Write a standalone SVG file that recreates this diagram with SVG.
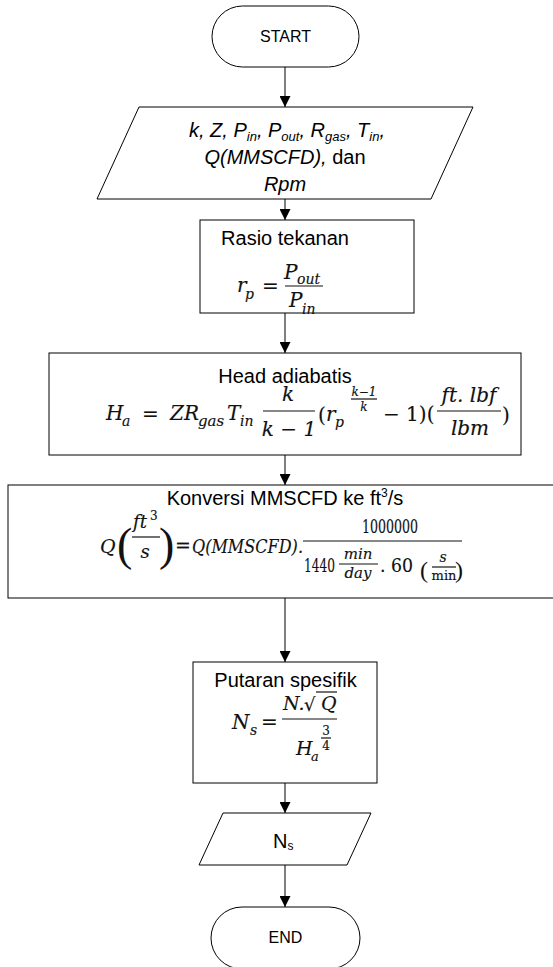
<svg xmlns="http://www.w3.org/2000/svg" width="553" height="967" viewBox="0 0 553 967">
<defs>
<style>
.shape{fill:#fff;stroke:#000;stroke-width:1}
.t{font-family:"Liberation Sans",Arial,sans-serif;font-size:20px;fill:#000}
.ts{font-family:"Liberation Sans",Arial,sans-serif;font-size:16px;fill:#000}
.m{font-family:"DejaVu Serif","Liberation Serif",serif;font-style:italic;fill:#111;stroke:#111;stroke-width:0.15}
.mu{font-family:"DejaVu Serif","Liberation Serif",serif;fill:#111;stroke:#111;stroke-width:0.15}
.bar{stroke:#111;stroke-width:1.2}
.conn line{stroke:#000;stroke-width:1}
</style>
<marker id="arr" markerUnits="userSpaceOnUse" markerWidth="11" markerHeight="11" refX="11" refY="5.5" orient="auto">
<path d="M0,0 L11,5.5 L0,11 z" fill="#000"/>
</marker>
</defs>
<rect width="553" height="967" fill="#fff"/>

<g class="conn">
<line x1="285" y1="67" x2="285" y2="107" marker-end="url(#arr)"/>
<line x1="285" y1="199" x2="285" y2="220" marker-end="url(#arr)"/>
<line x1="285" y1="313" x2="285" y2="353" marker-end="url(#arr)"/>
<line x1="285" y1="455" x2="285" y2="485" marker-end="url(#arr)"/>
<line x1="285" y1="598" x2="285" y2="662" marker-end="url(#arr)"/>
<line x1="285" y1="783" x2="285" y2="813" marker-end="url(#arr)"/>
<line x1="285" y1="865" x2="285" y2="907" marker-end="url(#arr)"/>
</g>

<g id="start">
<rect class="shape" x="212" y="6" width="147" height="61" rx="30.5"/>
<text class="ts" x="285.5" y="42" text-anchor="middle">START</text>
</g>

<g id="input">
<polygon class="shape" points="139,107 473,107 431,199 97,199"/>
<text class="t" x="287" y="137" text-anchor="middle" font-style="italic">k, Z, P<tspan dy="4" font-size="13">in</tspan><tspan dy="-4">, P</tspan><tspan dy="4" font-size="13">out</tspan><tspan dy="-4">, R</tspan><tspan dy="4" font-size="13">gas</tspan><tspan dy="-4">, T</tspan><tspan dy="4" font-size="13">in</tspan><tspan dy="-4">,</tspan></text>
<text class="t" x="285" y="164" text-anchor="middle"><tspan font-style="italic">Q(MMSCFD),</tspan> dan</text>
<text class="t" x="285" y="191" text-anchor="middle" font-style="italic">Rpm</text>
</g>

<g id="rasio">
<rect class="shape" x="200" y="220" width="214" height="93"/>
<text class="t" x="285" y="245" text-anchor="middle">Rasio tekanan</text>
<text class="m" x="237" y="292" style="font-size:20px">r</text>
<text class="m" x="245" y="299" style="font-size:14px">p</text>
<text class="mu" x="262" y="293" style="font-size:20px">=</text>
<text class="m" x="284" y="279" style="font-size:20px">P</text>
<text class="m" x="297" y="284" style="font-size:14px">out</text>
<line class="bar" x1="285" y1="286" x2="323" y2="286"/>
<text class="m" x="289" y="307" style="font-size:20px">P</text>
<text class="m" x="302" y="314" style="font-size:14px">in</text>
</g>

<g id="head">
<rect class="shape" x="49" y="353" width="472" height="102"/>
<text class="t" x="285" y="383" text-anchor="middle">Head adiabatis</text>
<text class="m" x="106" y="420" style="font-size:20px">H</text>
<text class="m" x="122" y="426" style="font-size:14px">a</text>
<text class="mu" x="142" y="421" style="font-size:20px">=</text>
<text class="m" x="170" y="420" style="font-size:20px">Z</text>
<text class="m" x="184" y="420" style="font-size:20px">R</text>
<text class="m" x="198" y="426" style="font-size:15px">gas</text>
<text class="m" x="227" y="420" style="font-size:20px">T</text>
<text class="m" x="240" y="426" style="font-size:14px">in</text>
<text class="m" x="288" y="401" text-anchor="middle" style="font-size:20px">k</text>
<line class="bar" x1="263" y1="411" x2="315" y2="411"/>
<text class="m" x="289" y="436" text-anchor="middle" style="font-size:20px">k − 1</text>
<text class="mu" x="318" y="422" style="font-size:20px">(</text>
<text class="m" x="326" y="421" style="font-size:20px">r</text>
<text class="m" x="335" y="427" style="font-size:14px">p</text>
<text class="m" x="364" y="396" text-anchor="middle" style="font-size:12px">k−1</text>
<line class="bar" x1="351" y1="399" x2="377" y2="399" stroke-width="1"/>
<text class="m" x="364" y="411" text-anchor="middle" style="font-size:12px">k</text>
<text class="mu" x="383" y="421" style="font-size:20px">− 1)(</text>
<text class="m" x="469" y="402" text-anchor="middle" style="font-size:20px">ft. lbf</text>
<line class="bar" x1="437" y1="411" x2="501" y2="411"/>
<text class="m" x="470" y="435" text-anchor="middle" style="font-size:20px">lbm</text>
<text class="mu" x="502" y="422" style="font-size:20px">)</text>
</g>

<g id="konversi">
<rect class="shape" x="8" y="485" width="550" height="113"/>
<text class="t" x="285" y="505" text-anchor="middle">Konversi MMSCFD ke ft<tspan dy="-8" font-size="12">3</tspan><tspan dy="8">/s</tspan></text>
<text class="m" x="100" y="553" style="font-size:19px">Q</text>
<text class="mu" x="117" y="560" style="font-size:46px;font-family:'Liberation Serif',serif;stroke-width:0">(</text>
<text class="m" x="133" y="528" style="font-size:18px">ft</text>
<text class="mu" x="150" y="520" style="font-size:12px">3</text>
<line class="bar" x1="132" y1="537" x2="160" y2="537"/>
<text class="m" x="145" y="558" text-anchor="middle" style="font-size:18px">s</text>
<text class="mu" x="159" y="560" style="font-size:46px;font-family:'Liberation Serif',serif;stroke-width:0">)</text>
<text class="mu" x="175" y="552" style="font-size:19px">=</text>
<text class="m" x="192" y="553" textLength="111" lengthAdjust="spacingAndGlyphs" style="font-size:19px">Q(MMSCFD).</text>
<line class="bar" x1="303" y1="541" x2="462" y2="541"/>
<text class="mu" x="362" y="533" textLength="56" lengthAdjust="spacingAndGlyphs" style="font-size:19px">1000000</text>
<text class="mu" x="304" y="572" textLength="31" lengthAdjust="spacingAndGlyphs" style="font-size:19px">1440</text>
<text class="m" x="358" y="559" text-anchor="middle" style="font-size:15px">min</text>
<line class="bar" x1="339" y1="564" x2="378" y2="564"/>
<text class="m" x="358" y="578" text-anchor="middle" style="font-size:15px">day</text>
<text class="mu" x="380" y="572" textLength="33" lengthAdjust="spacingAndGlyphs" style="font-size:19px">. 60</text>
<text class="mu" x="420" y="578" style="font-size:24px;font-family:'Liberation Serif',serif;stroke-width:0">(</text>
<text class="m" x="443" y="562" text-anchor="middle" style="font-size:14px">s</text>
<line class="bar" x1="432" y1="567" x2="456" y2="567"/>
<text class="mu" x="444" y="580" text-anchor="middle" style="font-size:13px">min</text>
<text class="mu" x="455" y="578" style="font-size:24px;font-family:'Liberation Serif',serif;stroke-width:0">)</text>
</g>

<g id="putaran">
<rect class="shape" x="193" y="662" width="184" height="121"/>
<text class="t" x="285.5" y="687" text-anchor="middle">Putaran spesifik</text>
<text class="m" x="232" y="729" style="font-size:20px">N</text>
<text class="m" x="250" y="735" style="font-size:14px">s</text>
<text class="mu" x="261" y="729" style="font-size:20px">=</text>
<text class="m" x="283" y="710" style="font-size:19px">N.</text>
<text class="mu" x="304" y="711" style="font-size:18px;font-family:'DejaVu Sans',sans-serif">√</text>
<line class="bar" x1="316" y1="692" x2="337" y2="692"/>
<text class="m" x="321" y="710" style="font-size:19px">Q</text>
<line class="bar" x1="282" y1="719" x2="337" y2="719"/>
<text class="m" x="296" y="755" style="font-size:19px">H</text>
<text class="m" x="311" y="761" style="font-size:13px">a</text>
<text class="mu" x="326" y="735" text-anchor="middle" style="font-size:12px">3</text>
<line class="bar" x1="321" y1="738" x2="331" y2="738" stroke-width="1"/>
<text class="mu" x="326" y="750" text-anchor="middle" style="font-size:12px">4</text>
</g>

<g id="output">
<polygon class="shape" points="223,813 371,813 347,865 199,865"/>
<text class="t" x="273" y="848">N<tspan dy="2" font-size="12">s</tspan></text>
</g>

<g id="end">
<rect class="shape" x="211" y="907" width="149" height="62" rx="31"/>
<text class="ts" x="285.5" y="943" text-anchor="middle">END</text>
</g>
</svg>
